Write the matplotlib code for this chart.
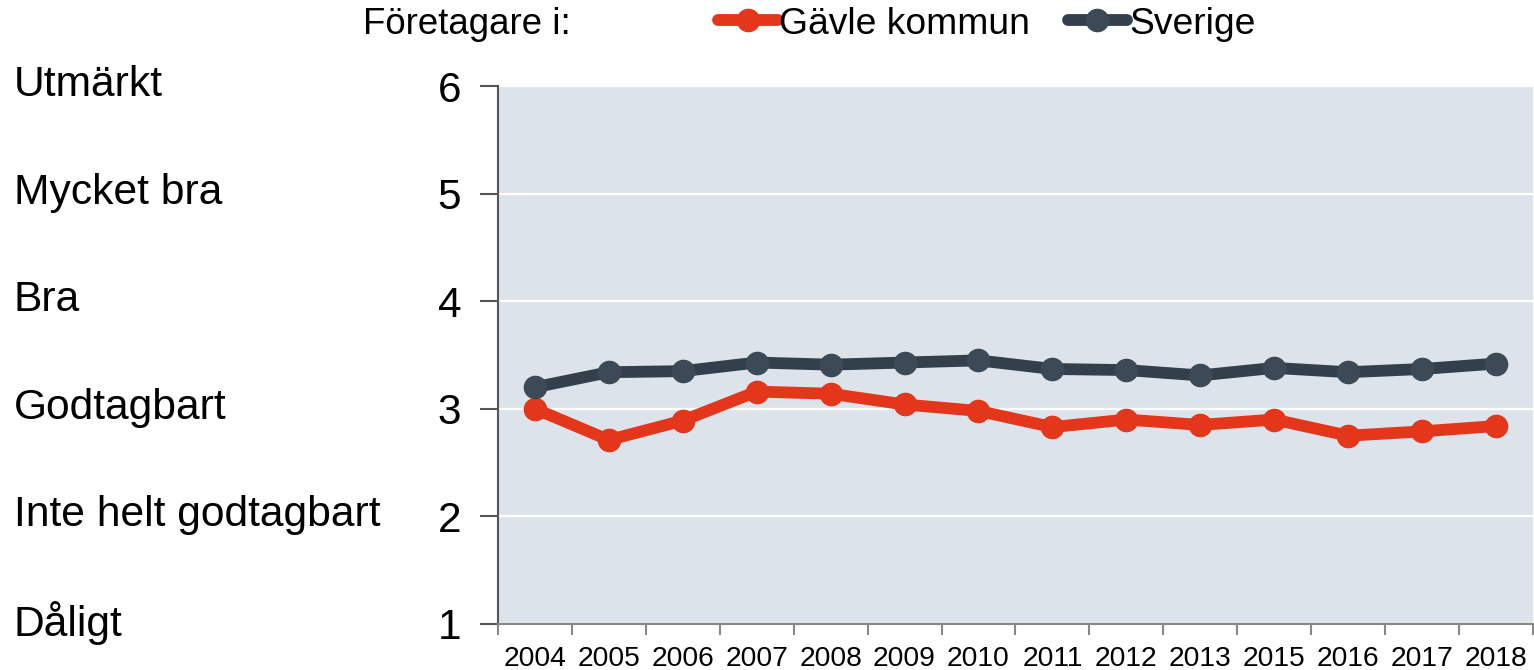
import numpy as np
import matplotlib
matplotlib.use("Agg")
import matplotlib.pyplot as plt
import matplotlib.transforms as mtransforms

plt.rcParams["font.family"] = ["Liberation Sans", "DejaVu Sans"]

years = ["2004", "2005", "2006", "2007", "2008", "2009", "2010",
         "2011", "2012", "2013", "2015", "2016", "2017", "2018"]
gavle = [3.00, 2.71, 2.89, 3.16, 3.14, 3.04, 2.98,
         2.83, 2.90, 2.85, 2.90, 2.75, 2.79, 2.84]
sverige = [3.20, 3.34, 3.35, 3.43, 3.41, 3.43, 3.45,
           3.37, 3.36, 3.31, 3.38, 3.34, 3.37, 3.42]
grade_labels = ["Dåligt", "Inte helt godtagbart", "Godtagbart",
                "Bra", "Mycket bra", "Utmärkt"]
grade_values = [1, 2, 3, 4, 5, 6]

red = "#E3361A"
dark = "#333F4A"
dark_marker = "#3B4A56"

fig = plt.figure(figsize=(15.34, 6.7), dpi=100)
ax = fig.add_axes([0.3246, 0.0687, 0.9993 - 0.3246, 0.8716 - 0.0687])
ax.set_facecolor("#DDE3EA")

x = np.arange(len(years))
ax.plot(x, gavle, color=red, lw=8.5, marker="o", ms=16,
        mfc=red, mec=red, label="Gävle kommun", solid_capstyle="round")
ax.plot(x, sverige, color=dark, lw=8.5, marker="o", ms=16,
        mfc=dark_marker, mec=dark_marker, label="Sverige", solid_capstyle="round")

ax.set_xlim(-0.5, len(years) - 0.5)
ax.set_ylim(1, 6)
ax.set_yticks(grade_values)
ax.tick_params(axis="y", labelsize=30.5, length=13, width=1.5, color="#555555", pad=13.5)
ax.yaxis.grid(True, color="white", lw=1.6)
ax.set_axisbelow(True)

# category boundaries carry the ticks, centers carry the year labels
ax.set_xticks(np.arange(-0.5, len(years)), labels=[""] * (len(years) + 1))
ax.set_xticks(x, labels=years, minor=True)
ax.tick_params(axis="x", which="major", length=8, width=1.5, color="#888888")
ax.tick_params(axis="x", which="minor", length=0, labelsize=20.3, pad=16)

for side in ["top", "right"]:
    ax.spines[side].set_visible(False)
ax.spines["left"].set_color("#555555")
ax.spines["left"].set_linewidth(1.5)
ax.spines["bottom"].set_color("#888888")
ax.spines["bottom"].set_linewidth(1.5)

trans = mtransforms.blended_transform_factory(fig.transFigure, ax.transData)
for lab, val in zip(grade_labels, grade_values):
    ax.text(0.009, val + 0.01, lab, transform=trans, fontsize=30.7,
            ha="left", va="center", clip_on=False)

fig.text(363 / 1534, 1 - 24 / 670, "Företagare i:", fontsize=26.4,
         ha="left", va="center")
fig.legend(loc="center left", bbox_to_anchor=(718 / 1534, 1 - 24 / 670),
           ncol=2, frameon=False, fontsize=26.8, borderpad=0, borderaxespad=0,
           handlelength=1.6, handletextpad=0.05, columnspacing=1.0)

fig.savefig("out.png", dpi=100)
